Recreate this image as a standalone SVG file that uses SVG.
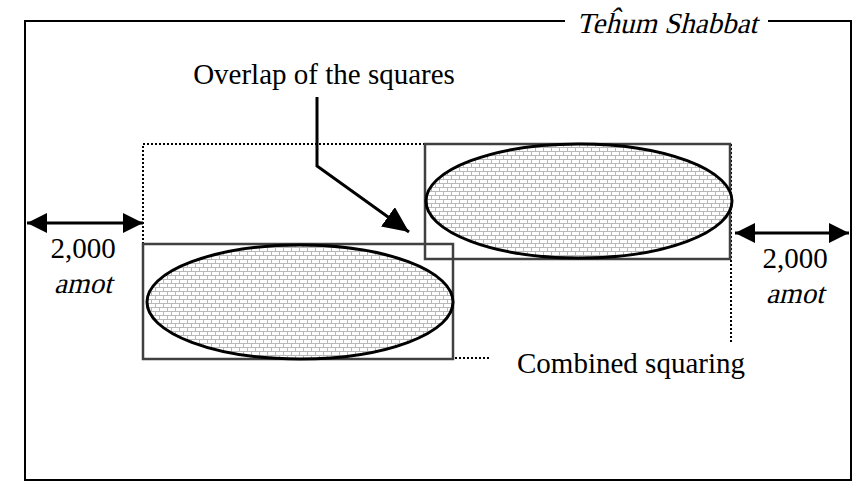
<svg xmlns="http://www.w3.org/2000/svg" width="860" height="493" viewBox="0 0 860 493">
<defs>
<pattern id="brick" width="8" height="8" patternUnits="userSpaceOnUse">
<rect width="8" height="8" fill="#ffffff"/>
<path d="M0 3.5H8M0 7.5H8M3.5 0V3.5M7.5 4V7.5" stroke="#b8b8b8" stroke-width="1" fill="none"/>
</pattern>
<marker id="ah" viewBox="0 0 20 20" refX="20" refY="10" markerWidth="20" markerHeight="20" markerUnits="userSpaceOnUse" orient="auto-start-reverse">
<path d="M0 0L20 10L0 20Z" fill="#000"/>
</marker>
<marker id="big" viewBox="0 0 26 24" refX="26" refY="12" markerWidth="26" markerHeight="24" markerUnits="userSpaceOnUse" orient="auto">
<path d="M0 0L26 12L0 24Z" fill="#000"/>
</marker>
</defs>
<style>
.t{font-family:"Liberation Serif",serif;font-size:29px;fill:#000}
.dot{fill:none;stroke:#000;stroke-width:2;stroke-dasharray:2 2}
.sq{fill:none;stroke:#404040;stroke-width:2.5}
.el{fill:url(#brick);stroke:#000;stroke-width:3}
.ln{fill:none;stroke:#000;stroke-width:3}
</style>
<g id="frame">
<path d="M565 21H25V480H851V21H768" fill="none" stroke="#000" stroke-width="2"/>
<text class="t" x="667" y="33" text-anchor="middle" transform="translate(667 33) skewX(-14) translate(-667 -33)">Teĥum Shabbat</text>
</g>
<g id="combined">
<path class="dot" d="M143 244V144H731V343"/>
<path class="dot" d="M455 358H490"/>
<text class="t" x="631" y="373" text-anchor="middle">Combined squaring</text>
</g>
<g id="left-square">
<rect class="sq" x="143" y="244" width="310" height="115"/>
<ellipse class="el" cx="300" cy="302" rx="153" ry="57"/>
</g>
<g id="right-square">
<rect class="sq" x="425" y="144" width="305" height="115"/>
<ellipse class="el" cx="579" cy="201" rx="153" ry="57"/>
</g>
<g id="overlap-label">
<text class="t" x="324" y="84" text-anchor="middle">Overlap of the squares</text>
</g>
<g id="left-dim">
<text class="t" x="83" y="258" text-anchor="middle">2,000</text>
<text class="t" x="83" y="293" text-anchor="middle" transform="translate(83 293) skewX(-14) translate(-83 -293)">amot</text>
</g>
<g id="right-dim">
<text class="t" x="795" y="268" text-anchor="middle">2,000</text>
<text class="t" x="795" y="303" text-anchor="middle" transform="translate(795 303) skewX(-14) translate(-795 -303)">amot</text>
</g>
<g id="connectors">
<line class="ln" x1="27" y1="223" x2="143" y2="223" marker-start="url(#ah)" marker-end="url(#ah)"/>
<line class="ln" x1="735" y1="233" x2="849" y2="233" marker-start="url(#ah)" marker-end="url(#ah)"/>
<path class="ln" d="M317 97V166L409 232" marker-end="url(#big)"/>
</g>
</svg>
